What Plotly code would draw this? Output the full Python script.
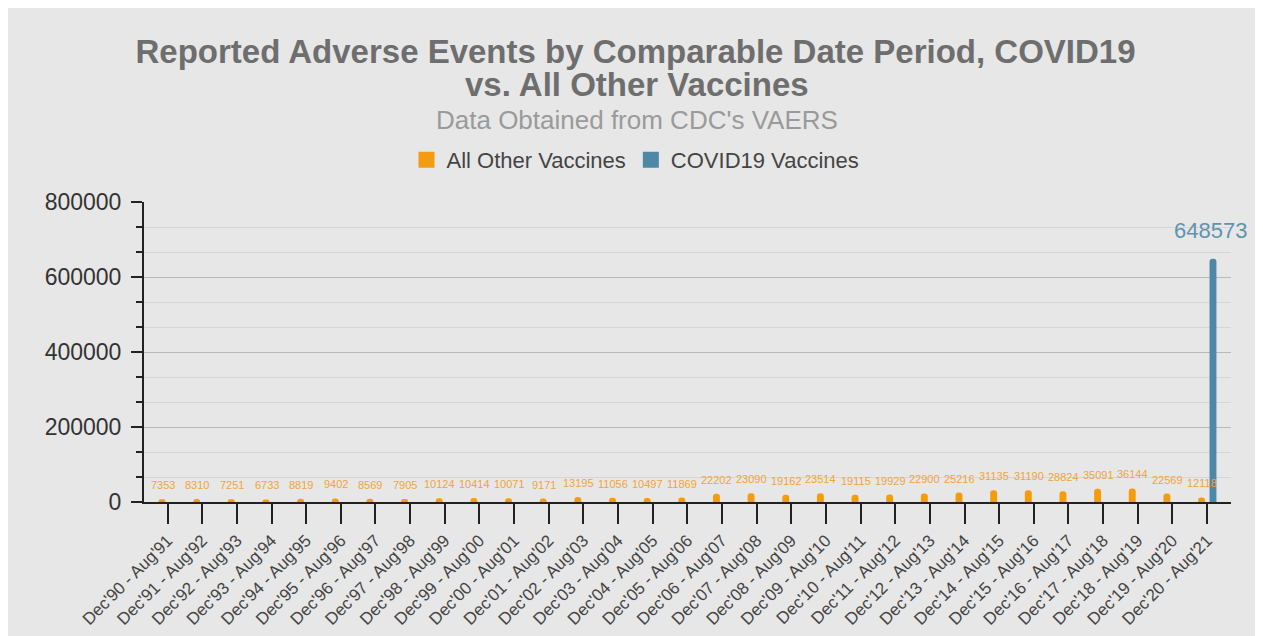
import plotly.graph_objects as go

categories = [
    "Dec'90 - Aug'91", "Dec'91 - Aug'92", "Dec'92 - Aug'93", "Dec'93 - Aug'94",
    "Dec'94 - Aug'95", "Dec'95 - Aug'96", "Dec'96 - Aug'97", "Dec'97 - Aug'98",
    "Dec'98 - Aug'99", "Dec'99 - Aug'00", "Dec'00 - Aug'01", "Dec'01 - Aug'02",
    "Dec'02 - Aug'03", "Dec'03 - Aug'04", "Dec'04 - Aug'05", "Dec'05 - Aug'06",
    "Dec'06 - Aug'07", "Dec'07 - Aug'08", "Dec'08 - Aug'09", "Dec'09 - Aug'10",
    "Dec'10 - Aug'11", "Dec'11 - Aug'12", "Dec'12 - Aug'13", "Dec'13 - Aug'14",
    "Dec'14 - Aug'15", "Dec'15 - Aug'16", "Dec'16 - Aug'17", "Dec'17 - Aug'18",
    "Dec'18 - Aug'19", "Dec'19 - Aug'20", "Dec'20 - Aug'21",
]
other_vaccines = [
    7353, 8310, 7251, 6733, 8819, 9402, 8569, 7905, 10124, 10414, 10071, 9171,
    13195, 11056, 10497, 11869, 22202, 23090, 19162, 23514, 19115, 19929, 22900,
    25216, 31135, 31190, 28824, 35091, 36144, 22569, 12118,
]
covid_vaccines = [None] * 30 + [648573]
y_ticks = [0, 200000, 400000, 600000, 800000]

ORANGE = "#f39c12"
BLUE = "#4f87a6"
FONT = "Liberation Sans, Arial, sans-serif"

fig = go.Figure()
fig.add_trace(go.Bar(
    x=categories, y=other_vaccines, name="All Other Vaccines",
    marker=dict(color=ORANGE, line=dict(width=0)),
    width=0.2, offset=-0.26, showlegend=False,
))
fig.add_trace(go.Bar(
    x=categories, y=covid_vaccines, name="COVID19 Vaccines",
    marker=dict(color=BLUE, line=dict(width=0)),
    width=0.2, offset=0.07, showlegend=False,
))
# legend entries (square swatches)
for name, col in [("All Other Vaccines", ORANGE), ("COVID19 Vaccines", BLUE)]:
    fig.add_trace(go.Scatter(
        x=[None], y=[None], mode="markers", name=name,
        marker=dict(symbol="square", size=22, color=col),
    ))

annotations = []
for c, v in zip(categories, other_vaccines):
    annotations.append(dict(
        x=c, y=v, xref="x", yref="y", text=str(v), showarrow=False,
        xshift=-5, yshift=14, font=dict(size=11, color="#f0a43a", family=FONT),
    ))
for c, v in zip(categories, covid_vaccines):
    if v is not None:
        annotations.append(dict(
            x=c, y=v, xref="x", yref="y", text=str(v), showarrow=False,
            xshift=3, yshift=28, font=dict(size=22, color="#5f93ae", family=FONT),
        ))
annotations.append(dict(
    x=0.4535, y=(501.7 - 84) / 300, xref="paper", yref="paper", showarrow=False,
    text="<b>vs. All Other Vaccines</b>",
    font=dict(size=33, color="#6e6e6e", family=FONT),
    xanchor="center", yanchor="middle",
))
annotations.append(dict(
    x=0.4535, y=(501.7 - 120) / 300, xref="paper", yref="paper", showarrow=False,
    text="Data Obtained from CDC's VAERS",
    font=dict(size=26, color="#9a9a9a", family=FONT),
    xanchor="center", yanchor="middle",
))

fig.update_layout(
    width=1255, height=628,
    margin=dict(l=136, r=32, t=194, b=134, pad=0, autoexpand=False),
    paper_bgcolor="#e7e7e7", plot_bgcolor="#e7e7e7",
    font=dict(family=FONT, color="#444"),
    barmode="group", barcornerradius=3,
    title=dict(
        text="<b>Reported Adverse Events by Comparable Date Period, COVID19</b>",
        x=0.5, xref="container", xanchor="center",
        y=1 - 43 / 628, yref="container", yanchor="middle",
        font=dict(size=33, color="#6e6e6e", family=FONT),
    ),
    legend=dict(
        orientation="h", x=0.5, xref="container", xanchor="center",
        y=1 - 152 / 628, yref="container", yanchor="middle",
        font=dict(size=22, color="#444", family=FONT),
        bgcolor="rgba(0,0,0,0)", itemsizing="trace",
    ),
    xaxis=dict(
        type="category", range=[-0.68, 30.69], automargin=False,
        showline=True, linecolor="#222", linewidth=2,
        ticks="outside", ticklen=20, tickwidth=2, tickcolor="#222",
        tickangle=-45, tickfont=dict(size=17, color="#444", family=FONT),
        showgrid=False, zeroline=False,
    ),
    yaxis=dict(
        range=[0, 800000], tickvals=y_ticks, tickformat="d", automargin=False,
        showline=True, linecolor="#222", linewidth=2,
        ticks="outside", ticklen=11, tickwidth=2, tickcolor="#222",
        tickfont=dict(size=23, color="#333", family=FONT),
        ticklabelstandoff=5,
        showgrid=True, gridcolor="#b9b9b9", gridwidth=1,
        zeroline=False,
        minor=dict(dtick=200000 / 3, tick0=0, ticks="outside", ticklen=6,
                   tickwidth=2, tickcolor="#222", showgrid=True,
                   gridcolor="#d6d6d6", gridwidth=1),
    ),
    yaxis2=dict(
        overlaying="y", range=[0, 800000], tickvals=y_ticks, automargin=False,
        ticks="inside", ticklen=11, tickwidth=2, tickcolor="#222",
        showticklabels=False, showgrid=False, zeroline=False, showline=False,
        minor=dict(dtick=200000 / 3, tick0=0, ticks="inside", ticklen=6,
                   tickwidth=2, tickcolor="#222", showgrid=False),
    ),
    annotations=annotations,
)

fig.write_html("out.html")
